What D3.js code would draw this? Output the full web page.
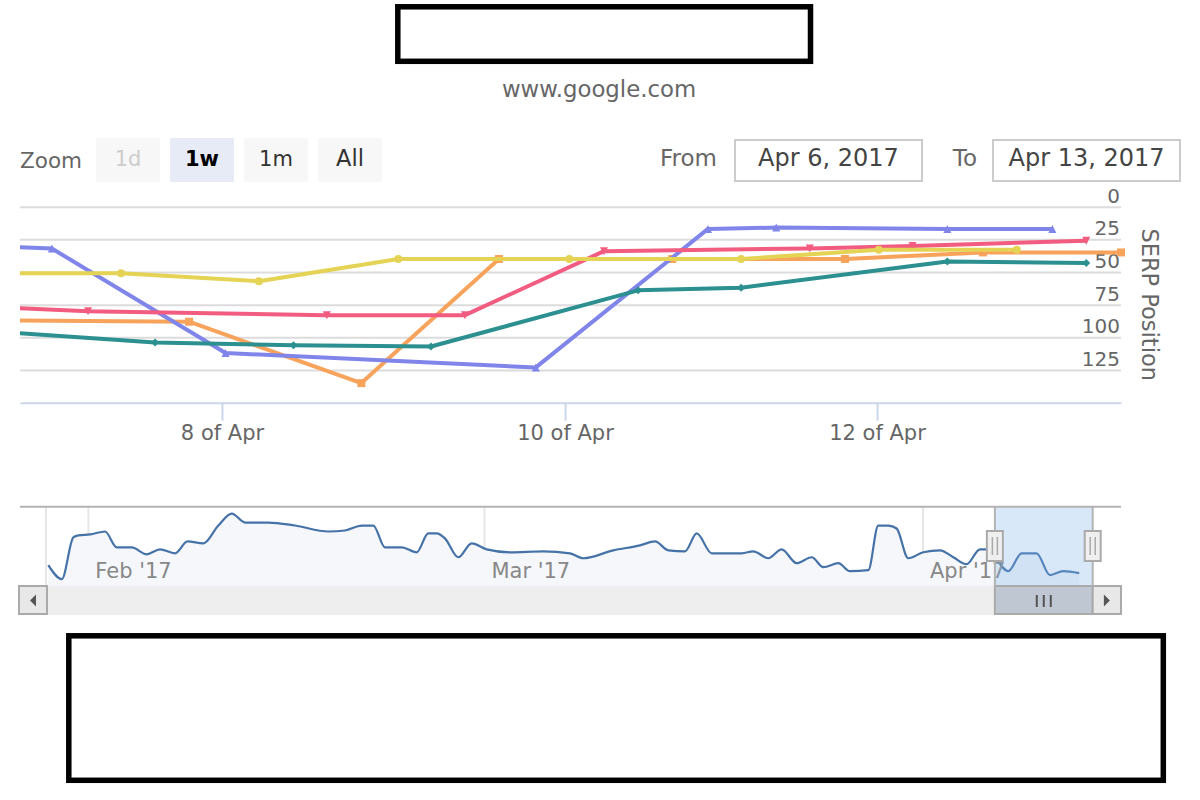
<!DOCTYPE html>
<html>
<head>
<meta charset="utf-8">
<script src="https://cdn.jsdelivr.net/npm/d3@7"></script>
<style>
  body { margin: 0; background: #fff; }
  svg { display: block; font-family: "DejaVu Sans", sans-serif; }
</style>
</head>
<body>
<div id="chart"></div>
<script>
const parse = d3.timeParse("%Y-%m-%d %H:%M");

// SERP positions per keyword series (first point of each lies before the visible window)
const orangeData = [
  ["2017-04-06 00:00", 87], ["2017-04-07 16:30", 88], ["2017-04-08 19:30", 135],
  ["2017-04-09 14:45", 40], ["2017-04-10 16:30", 40], ["2017-04-11 19:05", 40],
  ["2017-04-12 10:25", 35], ["2017-04-13 00:00", 35]
];
const purpleData = [
  ["2017-04-05 00:00", 28], ["2017-04-06 09:15", 32], ["2017-04-08 00:30", 112],
  ["2017-04-09 19:55", 123], ["2017-04-10 22:00", 17], ["2017-04-11 08:30", 16],
  ["2017-04-12 06:55", 17], ["2017-04-12 17:15", 17]
];
const redData = [
  ["2017-04-05 08:00", 75], ["2017-04-06 17:30", 80], ["2017-04-08 14:40", 83],
  ["2017-04-09 10:00", 83], ["2017-04-10 06:00", 34], ["2017-04-11 13:40", 32],
  ["2017-04-12 03:30", 30], ["2017-04-12 20:35", 26]
];
const yellowData = [
  ["2017-04-05 16:00", 51], ["2017-04-07 01:00", 51], ["2017-04-08 05:10", 57],
  ["2017-04-09 00:40", 40], ["2017-04-10 00:40", 40], ["2017-04-11 03:05", 40],
  ["2017-04-12 00:10", 33], ["2017-04-12 13:45", 33]
];
const tealData = [
  ["2017-04-05 14:00", 94], ["2017-04-07 08:45", 104], ["2017-04-08 10:00", 106],
  ["2017-04-09 05:15", 107], ["2017-04-10 11:15", 64], ["2017-04-11 03:05", 62],
  ["2017-04-12 06:55", 42], ["2017-04-12 20:35", 43]
];

const rangeStart = "2017-04-06 02:00";
const rangeEnd = "2017-04-13 00:00";
const xTickDates = ["2017-04-08 00:00", "2017-04-10 00:00", "2017-04-12 00:00"];
const yTicks = [0, 25, 50, 75, 100, 125];
const yMax = 150;

const zoomButtons = ["1d", "1w", "1m", "All"];
const fromLabel = "Apr 6, 2017";
const toLabel = "Apr 13, 2017";
const subtitle = "www.google.com";
const yTitle = "SERP Position";

// navigator series over the whole period
const navData = [
  ["2017-01-29 04:00", 21], ["2017-01-30 03:00", 7], ["2017-01-30 22:30", 49],
  ["2017-01-31 07:00", 51], ["2017-02-01 03:00", 52], ["2017-02-02 04:15", 55],
  ["2017-02-03 00:10", 39], ["2017-02-04 01:35", 39], ["2017-02-05 03:00", 32],
  ["2017-02-06 01:35", 37], ["2017-02-07 03:00", 33], ["2017-02-08 00:25", 45],
  ["2017-02-09 03:00", 43], ["2017-02-10 04:30", 61], ["2017-02-11 03:20", 73],
  ["2017-02-12 01:50", 64], ["2017-02-13 17:10", 64], ["2017-02-15 14:35", 61],
  ["2017-02-17 23:00", 55], ["2017-02-19 03:20", 56], ["2017-02-20 07:50", 61],
  ["2017-02-21 03:30", 61], ["2017-02-21 23:10", 39], ["2017-02-23 03:30", 39],
  ["2017-02-24 05:00", 34], ["2017-02-25 00:40", 53], ["2017-02-25 15:00", 53],
  ["2017-02-26 05:00", 48], ["2017-02-27 03:30", 29], ["2017-02-28 02:20", 43],
  ["2017-03-01 03:50", 37], ["2017-03-02 19:25", 34], ["2017-03-05 03:50", 35],
  ["2017-03-07 01:05", 33], ["2017-03-07 23:40", 28], ["2017-03-10 02:35", 36],
  ["2017-03-12 00:00", 41], ["2017-03-13 01:25", 45], ["2017-03-14 00:00", 36],
  ["2017-03-15 04:15", 35], ["2017-03-16 00:10", 53], ["2017-03-17 01:35", 33],
  ["2017-03-19 04:30", 33], ["2017-03-20 00:10", 35], ["2017-03-21 01:35", 28],
  ["2017-03-22 00:10", 37], ["2017-03-23 01:50", 23], ["2017-03-24 03:15", 29],
  ["2017-03-24 23:00", 19], ["2017-03-26 00:25", 23], ["2017-03-26 20:05", 15],
  ["2017-03-28 03:20", 16], ["2017-03-28 20:05", 61], ["2017-03-29 13:05", 61],
  ["2017-03-30 03:20", 58], ["2017-03-30 23:00", 28], ["2017-04-01 00:25", 34],
  ["2017-04-02 05:00", 36], ["2017-04-03 03:30", 29], ["2017-04-04 02:05", 22],
  ["2017-04-05 00:40", 37], ["2017-04-05 12:10", 37], ["2017-04-07 00:40", 15],
  ["2017-04-07 23:25", 33], ["2017-04-09 00:50", 33], ["2017-04-09 23:25", 11],
  ["2017-04-10 22:00", 15], ["2017-04-12 01:10", 13]
];
const navStart = "2017-01-27 04:00";
const navEnd = "2017-04-15 00:00";
const navTicks = ["2017-01-29 00:00", "2017-02-01 00:00", "2017-03-01 00:00", "2017-04-01 00:00"];
const navTickLabels = ["", "Feb '17", "Mar '17", "Apr '17"];

const series = [
  { data: orangeData, color: "#f7a35c", symbol: "square" },
  { data: purpleData, color: "#8085e9", symbol: "triangle" },
  { data: redData, color: "#f15c80", symbol: "triangle-down" },
  { data: yellowData, color: "#e4d354", symbol: "circle" },
  { data: tealData, color: "#2b908f", symbol: "diamond" }
].map(s => ({ ...s, points: s.data.map(d => ({ t: parse(d[0]), v: d[1] })) }));

const plot = { left: 20, right: 1121, top: 206.7, bottom: 402.7 };
const nav = { top: 506.7, bottom: 586, sbBottom: 615 };

const svg = d3.select("#chart").append("svg")
  .attr("width", 1200)
  .attr("height", 800);

// redacted title block
svg.append("rect")
  .attr("x", 397.8).attr("y", 6.8).attr("width", 412.7).attr("height", 54.5)
  .attr("fill", "#fff").attr("stroke", "#000").attr("stroke-width", 5.5);

svg.append("text")
  .attr("x", 599).attr("y", 97)
  .attr("text-anchor", "middle")
  .style("font-size", "22.8px").style("fill", "#666")
  .text(subtitle);

// range selector
svg.append("text")
  .attr("x", 20).attr("y", 168)
  .style("font-size", "21.5px").style("fill", "#666")
  .text("Zoom");

const btn = svg.selectAll(".btn")
  .data(zoomButtons)
  .enter().append("g")
  .attr("class", "btn")
  .attr("transform", (d, i) => `translate(${96 + i * 74},138)`);

btn.append("rect")
  .attr("width", 64).attr("height", 44)
  .attr("fill", d => d === "1w" ? "#e6ebf5" : "#f7f7f7");

btn.append("text")
  .attr("x", 32).attr("y", 28)
  .attr("text-anchor", "middle")
  .style("font-size", d => d === "All" ? "22.5px" : "21px")
  .style("font-weight", d => d === "1w" ? "bold" : "normal")
  .style("fill", d => d === "1d" ? "#cccccc" : (d === "1w" ? "#000" : "#333"))
  .text(d => d);

const inputs = [
  { label: "From", value: fromLabel, labelX: 717, boxX: 735 },
  { label: "To", value: toLabel, labelX: 977, boxX: 993 }
];

inputs.forEach(inp => {
  svg.append("text")
    .attr("x", inp.labelX).attr("y", 166)
    .attr("text-anchor", "end")
    .style("font-size", "23px").style("fill", "#666")
    .text(inp.label);
  svg.append("rect")
    .attr("x", inp.boxX).attr("y", 140).attr("width", 187).attr("height", 41)
    .attr("fill", "#fff").attr("stroke", "#cccccc").attr("stroke-width", 2);
  svg.append("text")
    .attr("x", inp.boxX + 93.5).attr("y", 166)
    .attr("text-anchor", "middle")
    .style("font-size", "24px").style("fill", "#444")
    .text(inp.value);
});

// main scales: ordinal-like x axis with uneven spacing between days
const x = d3.scaleTime()
  .domain([rangeStart, ...xTickDates, rangeEnd].map(parse))
  .range([plot.left, 222, 565, 877, plot.right]);

const y = d3.scaleLinear()
  .domain([0, yMax])
  .range([plot.top, plot.bottom]);

// gridlines
svg.append("g")
  .attr("transform", `translate(${plot.right},0)`)
  .call(d3.axisLeft(y).tickValues(yTicks).tickSize(plot.right - plot.left).tickFormat(""))
  .call(g => g.select(".domain").remove())
  .call(g => g.selectAll(".tick line").attr("stroke", "#dcdcdc").attr("stroke-width", 2));

// y labels (opposite side, above the lines)
svg.append("g")
  .attr("transform", `translate(1120,0)`)
  .call(d3.axisLeft(y).tickValues(yTicks).tickSize(0).tickPadding(0))
  .call(g => g.select(".domain").remove())
  .call(g => g.selectAll(".tick text")
    .attr("dy", "-4.5")
    .style("font-family", "DejaVu Sans, sans-serif")
    .style("font-size", "20px")
    .style("fill", "#666"));

svg.append("text")
  .attr("transform", `translate(1142,${(plot.top + plot.bottom) / 2}) rotate(90)`)
  .attr("text-anchor", "middle")
  .style("font-size", "22.5px").style("fill", "#666")
  .text(yTitle);

// x axis
svg.append("g")
  .attr("transform", `translate(0,${plot.bottom})`)
  .call(d3.axisBottom(x)
    .tickValues(xTickDates.map(parse))
    .tickFormat(d3.timeFormat("%-d of %b"))
    .tickSize(18)
    .tickSizeOuter(0)
    .tickPadding(4))
  .call(g => g.select(".domain").attr("stroke", "#ccd6eb").attr("stroke-width", 2))
  .call(g => g.selectAll(".tick line").attr("stroke", "#ccd6eb").attr("stroke-width", 2))
  .call(g => g.selectAll(".tick text")
    .style("font-family", "DejaVu Sans, sans-serif")
    .style("font-size", "21px")
    .style("fill", "#666"));

svg.append("clipPath").attr("id", "plotClip")
  .append("rect")
  .attr("x", plot.left).attr("y", plot.top - 10)
  .attr("width", plot.right - plot.left).attr("height", plot.bottom - plot.top + 10);

const line = d3.line().x(d => x(d.t)).y(d => y(d.v));

function marker(type, r) {
  switch (type) {
    case "square": return `M${-r},${-r}h${2 * r}v${2 * r}h${-2 * r}Z`;
    case "triangle": return `M0,${-r}L${r},${r}L${-r},${r}Z`;
    case "triangle-down": return `M${-r},${-r}L${r},${-r}L0,${r}Z`;
    case "diamond": return `M0,${-r}L${r},0L0,${r}L${-r},0Z`;
    default: return `M${-r},0a${r},${r} 0 1,0 ${2 * r},0a${r},${r} 0 1,0 ${-2 * r},0`;
  }
}

const t0 = parse(rangeStart);
const t1 = parse(rangeEnd);

series.forEach(s => {
  svg.append("path")
    .datum(s.points)
    .attr("clip-path", "url(#plotClip)")
    .attr("fill", "none")
    .attr("stroke", s.color)
    .attr("stroke-width", 4)
    .attr("stroke-linejoin", "round")
    .attr("d", line);

  svg.append("g").selectAll("path")
    .data(s.points.filter(p => p.t >= t0 && p.t <= t1))
    .enter().append("path")
    .attr("transform", p => `translate(${x(p.t)},${y(p.v)})`)
    .attr("d", marker(s.symbol, 4))
    .attr("fill", s.color);
});

// navigator
const navX = d3.scaleTime()
  .domain([parse(navStart), parse(navEnd)])
  .range([plot.left, plot.right]);

const navY = d3.scaleLinear()
  .domain([0, 80])
  .range([nav.bottom, nav.top]);

const navPoints = navData.map(d => ({ t: parse(d[0]), v: d[1] }));

svg.append("g").selectAll("line")
  .data(navTicks.map(parse))
  .enter().append("line")
  .attr("x1", d => navX(d)).attr("x2", d => navX(d))
  .attr("y1", nav.top).attr("y2", nav.bottom)
  .attr("stroke", "#e6e6e6").attr("stroke-width", 2);

svg.append("path")
  .datum(navPoints)
  .attr("fill", "#f5f7fa")
  .attr("d", d3.area().curve(d3.curveMonotoneX)
    .x(d => navX(d.t)).y0(nav.bottom).y1(d => navY(d.v)));

svg.append("path")
  .datum(navPoints)
  .attr("fill", "none")
  .attr("stroke", "#4572a7")
  .attr("stroke-width", 2.2)
  .attr("d", d3.line().curve(d3.curveMonotoneX)
    .x(d => navX(d.t)).y(d => navY(d.v)));

svg.append("g").selectAll("text")
  .data(navTicks.map((d, i) => ({ t: parse(d), label: navTickLabels[i] })))
  .enter().append("text")
  .attr("x", d => navX(d.t) + 7)
  .attr("y", 578)
  .style("font-size", "21px").style("fill", "#888")
  .text(d => d.label);

const selL = navX(t0);
const selR = navX(t1);

svg.append("rect")
  .attr("x", selL).attr("y", nav.top)
  .attr("width", selR - selL).attr("height", nav.bottom - nav.top)
  .attr("fill", "rgba(128,179,236,0.3)");

// scrollbar
svg.append("rect")
  .attr("x", plot.left).attr("y", nav.bottom)
  .attr("width", plot.right - plot.left).attr("height", nav.sbBottom - nav.bottom)
  .attr("fill", "#eeeeee");

svg.append("rect")
  .attr("x", selL).attr("y", nav.bottom)
  .attr("width", selR - selL).attr("height", nav.sbBottom - nav.bottom - 1)
  .attr("fill", "#bfc7d2").attr("stroke", "#aaaaaa").attr("stroke-width", 2);

[-7, 0, 7].forEach(dx => {
  svg.append("line")
    .attr("x1", (selL + selR) / 2 + dx).attr("x2", (selL + selR) / 2 + dx)
    .attr("y1", 595).attr("y2", 607)
    .attr("stroke", "#555").attr("stroke-width", 2);
});

[[19, 28, -1], [selR, plot.right - selR, 1]].forEach(([bx, bw, dir]) => {
  svg.append("rect")
    .attr("x", bx).attr("y", nav.bottom)
    .attr("width", bw).attr("height", nav.sbBottom - nav.bottom - 1)
    .attr("fill", "#e8e8e8").attr("stroke", "#aaaaaa").attr("stroke-width", 2);
  const cx = bx + bw / 2;
  svg.append("path")
    .attr("d", `M${cx - 3 * dir},594.5L${cx - 3 * dir},606.5L${cx + 3 * dir},600.5Z`)
    .attr("fill", "#555");
});

// outline
svg.append("path")
  .attr("d", `M${plot.left},${nav.top}H${plot.right}M${selL},${nav.top}V${nav.bottom}M${selR},${nav.top}V${nav.bottom}`)
  .attr("fill", "none").attr("stroke", "#b3b3b3").attr("stroke-width", 2);

// handles
[selL, selR].forEach(hx => {
  svg.append("rect")
    .attr("x", hx - 8).attr("y", 531).attr("width", 16).attr("height", 30)
    .attr("fill", "#efefef").attr("stroke", "#aaaaaa").attr("stroke-width", 2);
  [-2.5, 2.5].forEach(dx => {
    svg.append("line")
      .attr("x1", hx + dx).attr("x2", hx + dx)
      .attr("y1", 537).attr("y2", 555)
      .attr("stroke", "#aaaaaa").attr("stroke-width", 1.5);
  });
});

// redacted block below
svg.append("rect")
  .attr("x", 68.8).attr("y", 635.8).attr("width", 1094.5).attr("height", 144.5)
  .attr("fill", "#fff").attr("stroke", "#000").attr("stroke-width", 5.5);
</script>
</body>
</html>
